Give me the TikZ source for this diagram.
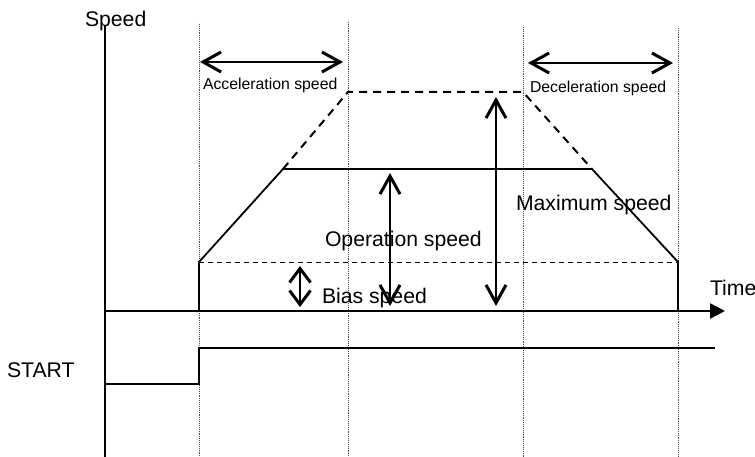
\documentclass[tikz,border=0pt]{standalone}
\usepackage{fontspec}
\setmainfont{Liberation Sans}
\usetikzlibrary{arrows.meta}
\usetikzlibrary{positioning}
\tikzstyle{every node}=[inner sep=0pt,outer sep=0pt]
\tikzstyle{every path}=[line width=1.8pt,line cap=butt,line join=miter]
\tikzstyle{big}=[font=\fontsize{21.2}{24}\selectfont]
\tikzstyle{small}=[font=\fontsize{15.8}{18}\selectfont]
\tikzstyle{guide}=[line width=0.9pt,densely dotted,black!70]
\tikzstyle{dbl}=[line width=2.4pt,{Straight Barb[length=18pt,width=20pt,line width=3pt]}-{Straight Barb[length=18pt,width=20pt,line width=3pt]}]

\begin{document}
\begin{tikzpicture}[x=1pt,y=-1pt]
  \useasboundingbox (0,0) rectangle (755,457);
  % corners of the speed curve
  \coordinate (s0) at (199,311);
  \coordinate (b1) at (199,262);
  \coordinate (a1) at (283,169);
  \coordinate (m1) at (348,92);
  \coordinate (m2) at (523,92);
  \coordinate (d1) at (592,169);
  \coordinate (b2) at (678,262);
  \coordinate (s1) at (678,311);
  % time marks
  \foreach \x/\top in {199/24,348/22,523/27,678/28}
    \draw[guide] (\x,\top) -- (\x,457);
  % axes
  \coordinate (o) at (105,311);
  \coordinate (tend) at (725,311);
  \draw (105,457) -- (105,25);
  \draw[line width=2.5pt,-{Triangle[length=15pt,width=15pt]}] (o) -- (tend);
  \node[big,anchor=base west] (speed) at (85,27) {Speed};
  \node[big,anchor=base west] (time) at (710,295) {Time};
  % bias and maximum levels
  \draw[line width=1pt,dash pattern=on 5pt off 4pt] (b1) -- (b2);
  \draw[line width=2pt,dash pattern=on 8pt off 6pt] (a1) -- (m1) -- (m2) -- (d1);
  \draw (s0) -- (b1) -- (a1) -- (d1) -- (b2) -- (s1);
  % START signal
  \coordinate (st0) at (105,384);
  \coordinate (st1) at (199,384);
  \coordinate (st2) at (199,348);
  \coordinate (st3) at (715,348);
  \draw (st0) -- (st1) -- (st2) -- (st3);
  \node[big,anchor=base west] (start) at (7,377) {START};
  % span arrows
  \draw[dbl] (200,62) -- (343,62);
  \draw[dbl] (528,63) -- (673,63);
  \node[small,anchor=base west] (acc) at (203,90) {Acceleration speed};
  \node[small,anchor=base west] (dec) at (530,93) {Deceleration speed};
  % level arrows
  \draw[dbl,{Straight Barb[length=14pt,width=21pt,line width=3pt]}-{Straight Barb[length=14pt,width=21pt,line width=3pt]}] (300,266) -- (300,307);
  \draw[dbl] (390,173) -- (390,306);
  \draw[dbl] (496,97) -- (496,306);
  \node[big,anchor=base west] (bias) at (322,303) {Bias speed};
  \node[big,anchor=base west] (oper) at (325,247) {Operation speed};
  \node[big,anchor=base west] (maxs) at (516,211) {Maximum speed};
\end{tikzpicture}
\end{document}
